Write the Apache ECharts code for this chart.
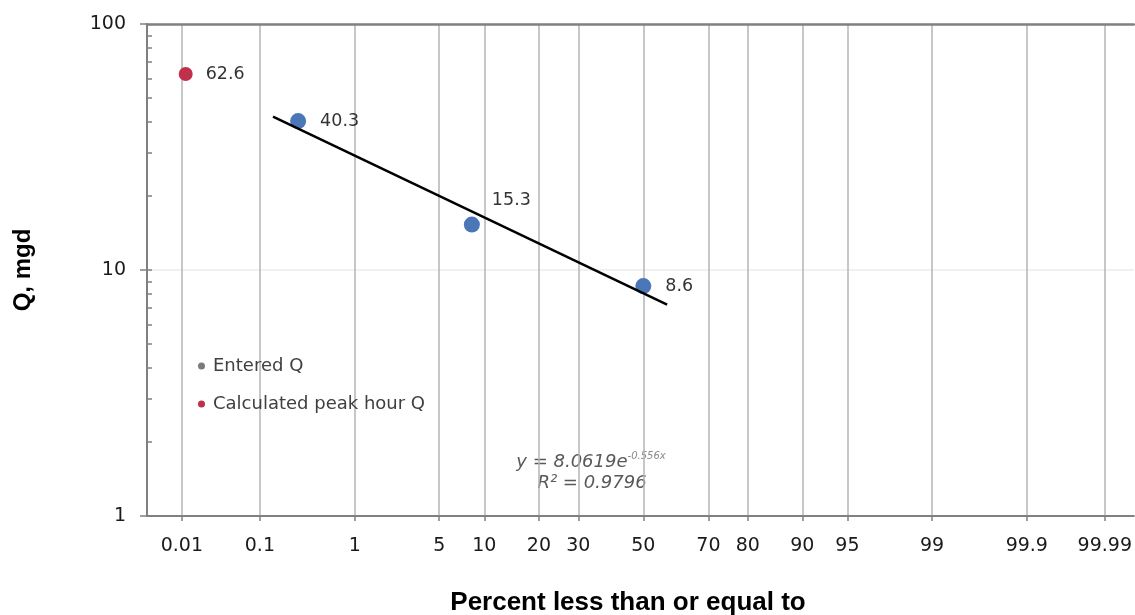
<!DOCTYPE html>
<html>
<head>
<meta charset="utf-8">
<script src="https://cdn.jsdelivr.net/npm/echarts@6/dist/echarts.min.js"></script>
<style>
html,body{margin:0;padding:0;background:#fff;}
#chart{width:1135px;height:615px;}
</style>
</head>
<body>
<div id="chart"></div>
<script>
// ---- data ----
const xTickPercents = [0.01, 0.1, 1, 5, 10, 20, 30, 50, 70, 80, 90, 95, 99, 99.9, 99.99];
const xTickLabels = ['0.01', '0.1', '1', '5', '10', '20', '30', '50', '70', '80', '90', '95', '99', '99.9', '99.99'];
const yInnerTicks = [2, 3, 4, 5, 6, 7, 8, 9, 10, 20, 30, 40, 50, 60, 70, 80, 90];

const enteredPercent = [0.27, 8.35, 50];
const enteredQ = [40.3, 15.3, 8.6];
const peakPercent = [0.0113];
const peakQ = [62.6];
const trendPercent = [0.142, 57.6];
const trendQ = [42.0, 7.24];

// ---- normal-probability axis transform (percent -> z) ----
function normInv(p) {
  const a=[-3.969683028665376e+01,2.209460984245205e+02,-2.759285104469687e+02,1.383577518672690e+02,-3.066479806614716e+01,2.506628277459239e+00];
  const b=[-5.447609879822406e+01,1.615858368580409e+02,-1.556989798598866e+02,6.680131188771972e+01,-1.328068155288572e+01];
  const c=[-7.784894002430293e-03,-3.223964580411365e-01,-2.400758277161838e+00,-2.549732539343734e+00,4.374664141464968e+00,2.938163982698783e+00];
  const d=[7.784695709041462e-03,3.224671290700398e-01,2.445134137142996e+00,3.754408661907416e+00];
  const pl=0.02425, ph=1-pl;
  let q, r;
  if (p < pl) { q=Math.sqrt(-2*Math.log(p)); return (((((c[0]*q+c[1])*q+c[2])*q+c[3])*q+c[4])*q+c[5])/((((d[0]*q+d[1])*q+d[2])*q+d[3])*q+1); }
  if (p <= ph) { q=p-0.5; r=q*q; return (((((a[0]*r+a[1])*r+a[2])*r+a[3])*r+a[4])*r+a[5])*q/(((((b[0]*r+b[1])*r+b[2])*r+b[3])*r+b[4])*r+1); }
  q=Math.sqrt(-2*Math.log(1-p)); return -(((((c[0]*q+c[1])*q+c[2])*q+c[3])*q+c[4])*q+c[5])/((((d[0]*q+d[1])*q+d[2])*q+d[3])*q+1);
}
const toZ = pct => normInv(pct / 100);
const xTickZ = xTickPercents.map(toZ);
function labelForZ(v) {
  let best = 0, bd = Infinity;
  xTickZ.forEach((z, i) => { const dd = Math.abs(z - v); if (dd < bd) { bd = dd; best = i; } });
  return bd < 1e-6 ? xTickLabels[best] : '';
}

const X_MIN = -4, X_MAX = 3.953;
const AXIS_COLOR = '#808080';
const FONT = 'DejaVu Sans';

const chart = echarts.init(document.getElementById('chart'), null, {renderer: 'canvas'});
chart.setOption({
  animation: false,
  backgroundColor: '#ffffff',
  grid: {left: 147, right: 0, top: 24, bottom: 99, containLabel: false},
  xAxis: [{
    type: 'value', min: X_MIN, max: X_MAX, position: 'bottom',
    axisLine: {show: true, onZero: false, lineStyle: {color: AXIS_COLOR, width: 2}},
    axisTick: {show: true, customValues: xTickZ, length: 5, lineStyle: {color: AXIS_COLOR, width: 1.5}},
    axisLabel: {customValues: xTickZ, formatter: labelForZ, margin: 21, fontFamily: FONT, fontSize: 19, color: '#1a1a1a'},
    splitLine: {show: true, lineStyle: {color: '#b4b4b4', width: 1.5}}
  }, {
    type: 'value', min: X_MIN, max: X_MAX, position: 'top',
    axisLine: {show: true, onZero: false, lineStyle: {color: AXIS_COLOR, width: 2.5}},
    axisTick: {show: false}, axisLabel: {show: false}, splitLine: {show: false}
  }],
  yAxis: [{
    type: 'log', logBase: 10, min: 1, max: 100, position: 'left',
    axisLine: {show: true, onZero: false, lineStyle: {color: AXIS_COLOR, width: 2}},
    axisTick: {show: true, length: 7, lineStyle: {color: AXIS_COLOR, width: 1.5}},
    axisLabel: {margin: 21, fontFamily: FONT, fontSize: 19, color: '#1a1a1a'},
    splitLine: {show: true, lineStyle: {color: '#ebebeb', width: 1.5}}
  }, {
    type: 'log', logBase: 10, min: 1, max: 100, position: 'left', offset: 0,
    axisLine: {show: false, onZero: false},
    axisTick: {show: true, inside: true, length: 5, customValues: yInnerTicks, lineStyle: {color: AXIS_COLOR, width: 1.5}},
    axisLabel: {show: false}, splitLine: {show: false}
  }],
  legend: {
    orient: 'vertical', left: 193, top: 352, itemGap: 20,
    itemWidth: 7, itemHeight: 7, icon: 'circle',
    textStyle: {fontFamily: FONT, fontSize: 18, lineHeight: 18, color: '#404040', padding: [0, 0, 0, 3]},
    data: [
      {name: 'Entered Q', itemStyle: {color: '#7a7a7a'}},
      {name: 'Calculated peak hour Q', itemStyle: {color: '#c0304a'}}
    ]
  },
  series: [{
    name: 'trend', type: 'line', xAxisIndex: 0, yAxisIndex: 0,
    data: trendPercent.map((p, i) => [toZ(p), trendQ[i]]),
    showSymbol: false, symbol: 'none', silent: true,
    lineStyle: {color: '#000000', width: 2.5}, z: 3
  }, {
    name: 'Entered Q', type: 'scatter', xAxisIndex: 0, yAxisIndex: 0,
    symbolSize: 16, itemStyle: {color: '#4b77b8', opacity: 1}, z: 2,
    data: enteredPercent.map((p, i) => ({
      value: [toZ(p), enteredQ[i]],
      label: i === 1 ? {offset: [-2, -24]} : {}
    })),
    label: {show: true, position: 'right', distance: 14, formatter: p => String(p.value[1]),
      fontFamily: FONT, fontSize: 17.5, color: '#333333'}
  }, {
    name: 'Calculated peak hour Q', type: 'scatter', xAxisIndex: 0, yAxisIndex: 0,
    symbolSize: 14, itemStyle: {color: '#c0304a', opacity: 1}, z: 2,
    data: peakPercent.map((p, i) => [toZ(p), peakQ[i]]),
    label: {show: true, position: 'right', distance: 13, formatter: p => String(p.value[1]),
      fontFamily: FONT, fontSize: 17.5, color: '#333333'}
  }],
  graphic: [{
    type: 'text', x: 591, y: 462,
    style: {
      text: '{m|y = 8.0619e}{s|-0.556x}',
      align: 'center', verticalAlign: 'middle',
      rich: {
        m: {fontFamily: FONT, fontStyle: 'italic', fontSize: 18, fill: '#595959', color: '#595959'},
        s: {fontFamily: FONT, fontStyle: 'italic', fontSize: 10, fill: '#8a8a8a', color: '#8a8a8a', verticalAlign: 'top', padding: [0, 0, 12, 0]}
      }
    }
  }, {
    type: 'text', x: 592, y: 483,
    style: {text: 'R² = 0.9796', align: 'center', verticalAlign: 'middle',
      font: 'italic 18px "DejaVu Sans"', fill: '#595959'}
  }, {
    type: 'text', x: 628, y: 603,
    style: {text: 'Percent less than or equal to', align: 'center', verticalAlign: 'middle',
      font: 'bold 26px "Liberation Sans", Arial', fill: '#000000'}
  }, {
    type: 'text', x: 23, y: 270, rotation: Math.PI / 2,
    style: {text: 'Q, mgd', align: 'center', verticalAlign: 'middle',
      font: 'bold 24px "Liberation Sans", Arial', fill: '#000000'}
  }]
});
</script>
</body>
</html>
